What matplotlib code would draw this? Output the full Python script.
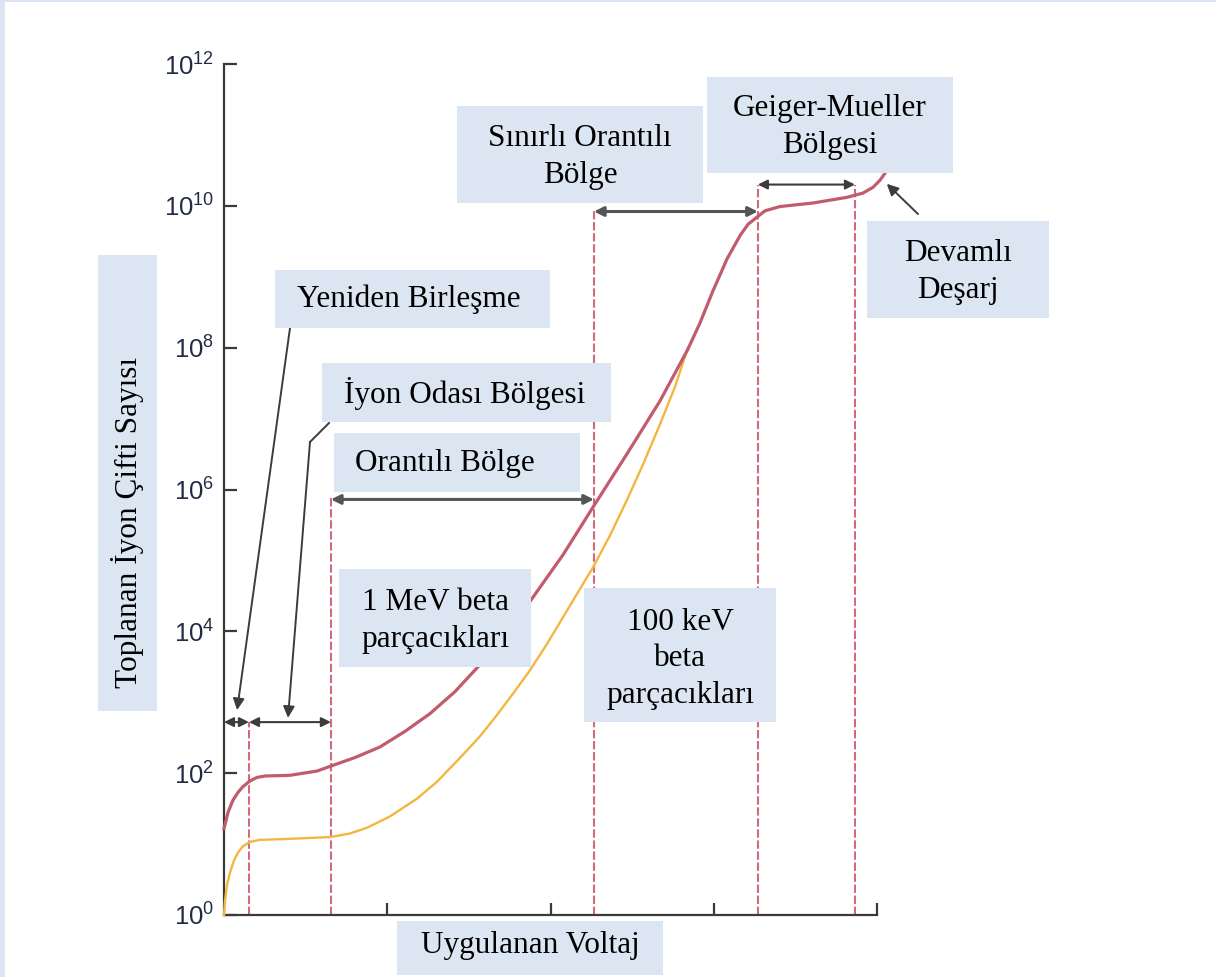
"""
Gas-filled detector regions: collected ion pairs vs applied voltage
"""

import numpy as np
import matplotlib.pyplot as plt
from matplotlib.patches import Rectangle
from matplotlib.lines import Line2D
from matplotlib.ticker import NullLocator

plt.rcParams['font.family'] = ['Liberation Serif', 'DejaVu Serif']
plt.rcParams['mathtext.fontset'] = 'custom'
plt.rcParams['mathtext.rm'] = 'Liberation Sans'
plt.rcParams['mathtext.it'] = 'Liberation Sans:italic'

##### data #####

# applied voltage (axis runs 0..4) and log10 of collected ion pairs
v_1mev = [0.000, 0.025, 0.055, 0.086, 0.116, 0.159, 0.202, 0.251, 0.404,
          0.570, 0.655, 0.802, 0.956, 1.109, 1.262, 1.415, 1.568, 1.721,
          1.874, 2.077, 2.260, 2.468, 2.671, 2.842, 2.916, 2.995, 3.081,
          3.161, 3.210, 3.314, 3.406, 3.608, 3.816, 3.914, 3.975, 4.018,
          4.049, 4.080]
exp_1mev = [1.22, 1.45, 1.62, 1.73, 1.81, 1.89, 1.94, 1.96, 1.97,
            2.03, 2.10, 2.22, 2.37, 2.59, 2.84, 3.15, 3.53, 3.95,
            4.42, 5.08, 5.75, 6.50, 7.25, 7.98, 8.35, 8.80, 9.25,
            9.58, 9.74, 9.93, 9.99, 10.04, 10.12, 10.18, 10.26, 10.36,
            10.46, 10.60]

v_100kev = [0.000, 0.006, 0.018, 0.037, 0.061, 0.086, 0.116, 0.159, 0.220,
            0.361, 0.655, 0.772, 0.876, 1.017, 1.182, 1.305, 1.464, 1.568,
            1.672, 1.770, 1.874, 1.978, 2.077, 2.168, 2.260, 2.364, 2.468,
            2.566, 2.671, 2.763, 2.842]
exp_100kev = [0.00, 0.20, 0.42, 0.60, 0.77, 0.88, 0.97, 1.03, 1.06,
              1.07, 1.10, 1.15, 1.23, 1.39, 1.64, 1.88, 2.26, 2.52,
              2.82, 3.12, 3.45, 3.82, 4.20, 4.55, 4.90, 5.35, 5.85,
              6.35, 6.92, 7.45, 8.00]

# region boundaries (dashed lines) and how high each is drawn
region_edges = [0.153, 0.655, 2.266, 3.27, 3.865]
edge_top_exp = [2.72, 5.9, 9.93, 10.3, 10.3]

y_tick_exp = [0, 2, 4, 6, 8, 10, 12]
x_ticks = [1, 2, 3, 4]

RED = '#c25b6b'
YEL = '#f3b640'
DASH = '#cf6b7a'
BOX = '#dce6f2'
AXC = '#3a3a3a'

W, H = 1216, 977
fig = plt.figure(figsize=(W / 100, H / 100), dpi=100)
ax = fig.add_axes([224 / W, 1 - 915 / H, (877 - 224) / W, (915 - 64) / H])

# curves
ax.plot(v_1mev, 10 ** np.array(exp_1mev), color=RED, lw=2.3,
        clip_on=False, zorder=3, solid_joinstyle='round')
ax.plot(v_100kev, 10 ** np.array(exp_100kev), color=YEL, lw=1.7,
        clip_on=False, zorder=2.9, solid_joinstyle='round')

# dashed region boundaries
for xe, te in zip(region_edges, edge_top_exp):
    ax.plot([xe, xe], [1, 10 ** te], color=DASH, lw=1.5,
            dashes=(4, 1.3), zorder=2)

ax.set_xlim(0, 4)
ax.set_yscale('log')
ax.set_ylim(1, 1e12)
ax.set_yticks([10.0 ** e for e in y_tick_exp])
ax.set_yticklabels([r'$10^{%d}$' % e for e in y_tick_exp])
ax.yaxis.set_minor_locator(NullLocator())
ax.set_xticks(x_ticks)
ax.set_xticklabels([])

for s in ['top', 'right']:
    ax.spines[s].set_visible(False)
for s in ['left', 'bottom']:
    ax.spines[s].set_color(AXC)
    ax.spines[s].set_linewidth(1.6)
ax.tick_params(direction='in', length=9, width=1.6, color=AXC,
               labelsize=18.5, labelcolor='#222b45', pad=7)


##### region arrows #####
def span(x0, x1, e, lw=1.5, col='#3c3c3c'):
    ax.annotate('', xy=(x1, 10 ** e), xytext=(x0, 10 ** e),
                arrowprops=dict(arrowstyle='<|-|>', color=col, lw=lw,
                                shrinkA=0, shrinkB=0, mutation_scale=14),
                annotation_clip=False, zorder=4)

span(0.0, region_edges[0], 2.72)
span(region_edges[0], region_edges[1], 2.72)
span(region_edges[1], region_edges[2], 5.86, lw=2.2, col='#555555')
span(region_edges[2], region_edges[3], 9.92, lw=2.2, col='#555555')
span(region_edges[3], region_edges[4], 10.3)


##### label boxes #####
def box(x0, y0, x1, y1, txt, tx=None, ty=None, rot=0, ls=1.36):
    fig.add_artist(Rectangle((x0 / W, 1 - y1 / H), (x1 - x0) / W, (y1 - y0) / H,
                             transform=fig.transFigure, fc=BOX, ec='none',
                             zorder=5))
    if tx is None:
        tx = (x0 + x1) / 2
    if ty is None:
        ty = (y0 + y1) / 2
    fig.text(tx / W, 1 - ty / H, txt, ha='center', va='center',
             fontsize=22.5, rotation=rot, linespacing=ls,
             multialignment='center', zorder=6)

box(98, 255, 157, 711, 'Toplanan İyon Çifti Sayısı', tx=128, ty=523, rot=90)
box(397, 921, 663, 975, 'Uygulanan Voltaj', ty=946)
box(275, 270, 550, 328, 'Yeniden Birleşme', tx=409, ty=299)
box(322, 363, 611, 422, 'İyon Odası Bölgesi', tx=465, ty=393)
box(334, 433, 580, 492, 'Orantılı Bölge', tx=445, ty=463)
box(339, 569, 531, 667, '1 MeV beta\nparçacıkları', ty=621)
box(584, 588, 776, 722, '100 keV\nbeta\nparçacıkları', ty=659)
box(457, 106, 703, 203, 'Sınırlı Orantılı\nBölge', ty=157)
box(707, 77, 953, 173, 'Geiger-Mueller\nBölgesi', ty=127)
box(867, 221, 1049, 318, 'Devamlı\nDeşarj', ty=272)


##### pointer arrows from boxes #####
def pointer(px, py, xd, e):
    ax.annotate('', xy=(xd, 10 ** e), xytext=(px, H - py),
                textcoords='figure pixels',
                arrowprops=dict(arrowstyle='-|>', color='#3c3c3c', lw=1.4,
                                shrinkA=0, shrinkB=0, mutation_scale=17),
                annotation_clip=False, zorder=4)

pointer(290, 328, 0.08, 2.89)
fig.add_artist(Line2D([329 / W, 310 / W], [1 - 423 / H, 1 - 442 / H],
                      color='#3c3c3c', lw=1.4))
pointer(310, 442, 0.392, 2.78)
pointer(918, 214, 4.06, 10.31)

# thin frame strips at the left and top of the slide
fig.add_artist(Rectangle((0, 0), 5 / W, 1, transform=fig.transFigure,
                         fc=BOX, ec='none'))
fig.add_artist(Rectangle((0, 1 - 2 / H), 1, 2 / H, transform=fig.transFigure,
                         fc=BOX, ec='none'))

plt.savefig('out.png', dpi=100)
